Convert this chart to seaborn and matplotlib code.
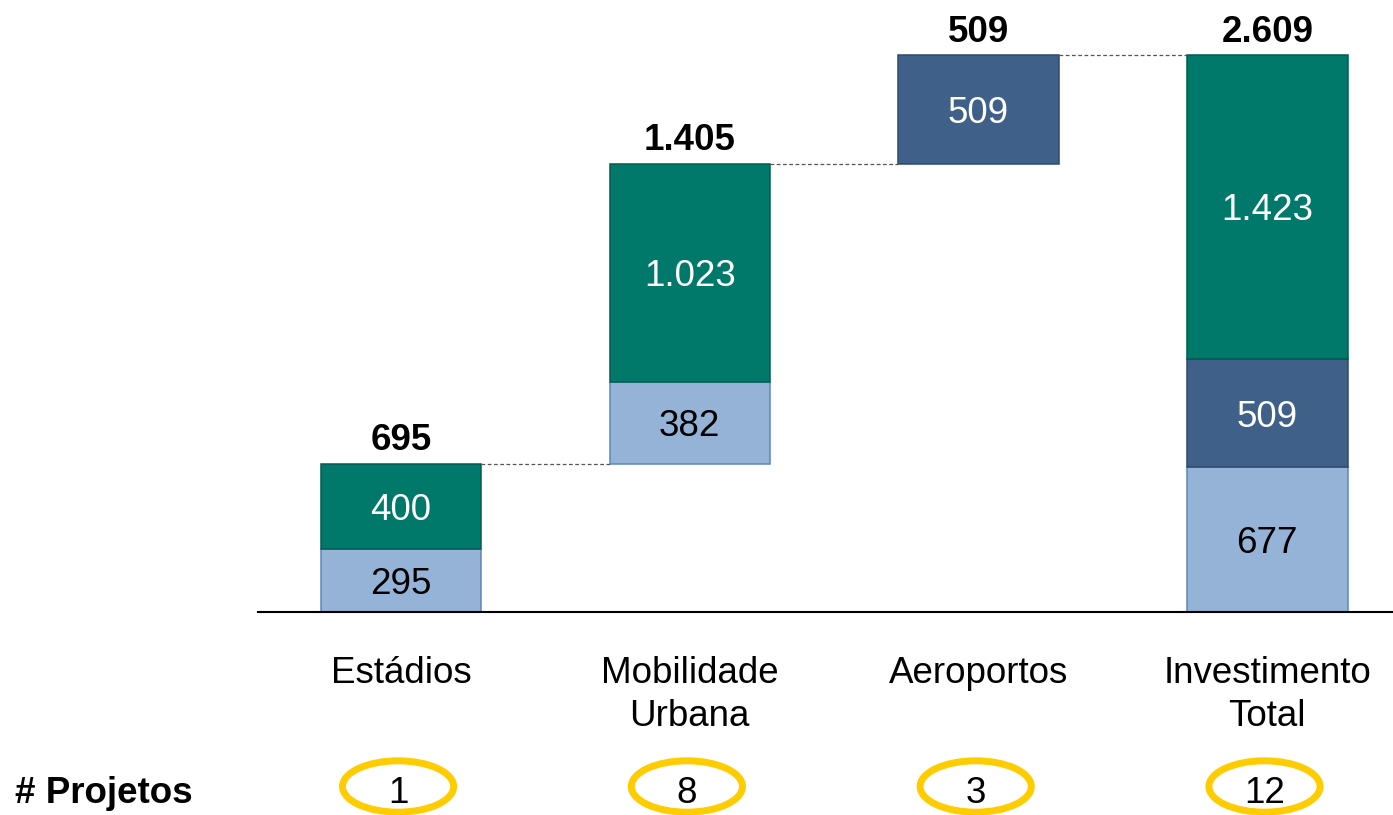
import numpy as np
import pandas as pd
import matplotlib
matplotlib.use("Agg")
import matplotlib.pyplot as plt
import matplotlib.transforms as mtransforms
from matplotlib.patches import Ellipse
import seaborn as sns

# valores (R$ milhoes)
categorias = ["Estádios", "Mobilidade\nUrbana", "Aeroportos", "Investimento\nTotal"]
azul_claro = [295, 382, 0, 677]
azul_escuro = [0, 0, 509, 509]
verde = [400, 1023, 0, 1423]
projetos = [1, 8, 3, 12]

sns.set_style("white")
plt.rcParams["font.family"] = ["Liberation Sans", "DejaVu Sans"]
plt.rcParams["text.color"] = "black"
plt.rcParams["xtick.color"] = "black"
plt.rcParams["xtick.labelcolor"] = "black"

def fmt(v):
    return f"{int(v):,}".replace(",", ".")

totais = np.array(azul_claro) + np.array(azul_escuro) + np.array(verde)
# cascata: as tres primeiras barras se acumulam, a ultima volta ao zero
base = np.array([0, totais[0], totais[0] + totais[1], 0])
largura = 0.555
fs = 26.5

fig = plt.figure(figsize=(13.93, 8.15), dpi=100)
ax = fig.add_axes([258 / 1393, 203 / 815, 1 - 258 / 1393, 1 - 203 / 815])

camadas = [
    (azul_claro, "#95B3D7", "#5B87BE", "black"),
    (azul_escuro, "#3F6189", "#2E4A6D", "white"),
    (verde, "#00796B", "#005C52", "white"),
]

fundo = base.copy()
for valores, cor, borda, cor_txt in camadas:
    valores = np.array(valores)
    tem = valores > 0
    df = pd.DataFrame({"cat": np.array(categorias)[tem], "valor": valores[tem]})
    sns.barplot(data=df, x="cat", y="valor", order=categorias, color=cor,
                saturation=1, width=largura, errorbar=None, ax=ax,
                bottom=fundo[tem], edgecolor=borda, linewidth=1.1)
    for i in np.where(tem)[0]:
        ax.text(i, fundo[i] + valores[i] / 2, fmt(valores[i]), ha="center",
                va="center_baseline", color=cor_txt, fontsize=fs)
    fundo = fundo + valores

# totais em negrito acima das barras
for i, t in enumerate(totais):
    ax.annotate(fmt(t), (i, base[i] + t), xytext=(0, 9.5), textcoords="offset points",
                ha="center", va="baseline", fontsize=fs, fontweight="bold")

# linhas tracejadas ligando os degraus
for i in range(3):
    y = base[i] + totais[i]
    ax.plot([i + largura / 2, i + 1 - largura / 2], [y, y], ls=(0, (3, 2)),
            color="#555555", lw=0.9)

ax.set_xlim(-0.495, 3.435)
ax.set_ylim(0, 2866)
ax.set_yticks([])
ax.set_xlabel("")
ax.set_ylabel("")
ax.tick_params(axis="x", length=0, pad=31.5, labelsize=fs)
for lbl in ax.get_xticklabels():
    lbl.set_linespacing(1.32)
sns.despine(ax=ax, left=True)
ax.spines["bottom"].set_color("black")
ax.spines["bottom"].set_linewidth(1.5)

# linha de numero de projetos
trans = mtransforms.blended_transform_factory(ax.transData, fig.transFigure)
fig.text(15 / 1393, 0.031, "# Projetos", fontsize=fs, fontweight="bold",
         va="center_baseline")
for i, n in enumerate(projetos):
    fig.add_artist(Ellipse((i - 0.01, 0.035), width=0.385, height=0.063, transform=trans,
                           fill=False, edgecolor="#FFCC00", lw=5, clip_on=False))
    ax.text(i - 0.01, 0.031, str(n), transform=trans, ha="center",
            va="center_baseline", fontsize=fs, clip_on=False)

fig.savefig("out.png", dpi=100)
